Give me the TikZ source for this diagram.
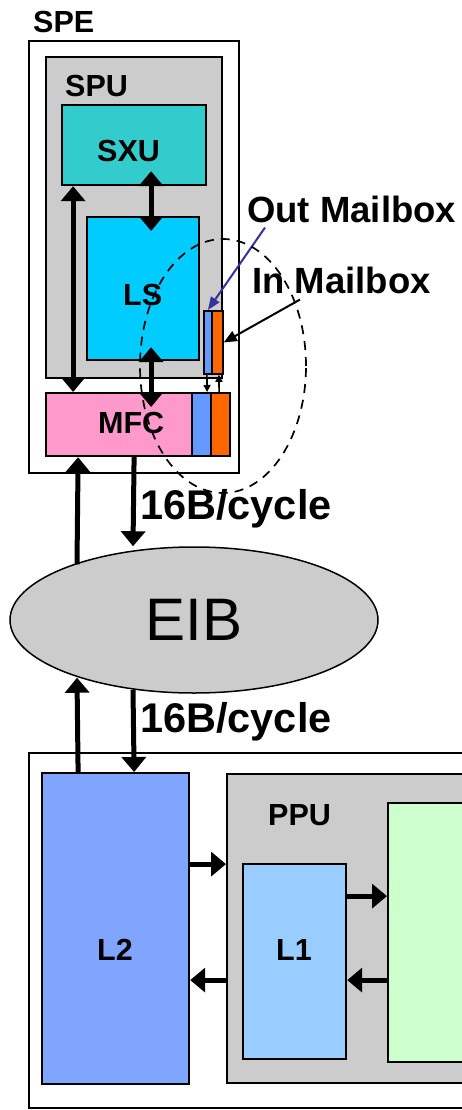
\documentclass[tikz,border=0pt]{standalone}
\usepackage{fontspec}
\setmainfont{Liberation Sans}
\usetikzlibrary{arrows.meta,calc,shapes.geometric}
\definecolor{grayfill}{HTML}{CCCCCC}
\definecolor{sxucol}{HTML}{33CCCC}
\definecolor{lscol}{HTML}{00CCFF}
\definecolor{mfccol}{HTML}{FF99CC}
\definecolor{mbblue}{HTML}{6699FF}
\definecolor{mborange}{HTML}{FF6600}
\definecolor{ltwocol}{HTML}{7FA5FF}
\definecolor{lonecol}{HTML}{99CCFF}
\definecolor{corecol}{HTML}{CCFFCC}
\definecolor{outarrow}{HTML}{333399}
\begin{document}
\begin{tikzpicture}[x=1pt,y=-1pt,
  blk/.style={draw=black, line width=2.2pt, rectangle, inner sep=0pt, anchor=north west},
  lab/.style={inner sep=0pt, anchor=base west, font=\fontsize{30.5}{36}\selectfont\bfseries},
  biglab/.style={inner sep=0pt, anchor=base west, font=\fontsize{36.5}{42}\selectfont\bfseries},
  ratelab/.style={inner sep=0pt, anchor=base west, font=\fontsize{41.5}{48}\selectfont\bfseries},
  bigarr/.style={line width=5pt, {Triangle[length=15pt,width=24pt]}-{Triangle[length=15pt,width=24pt]}},
  onearr/.style={line width=5pt, -{Triangle[length=15pt,width=24pt]}},
  thinarr/.style={line width=1.6pt, -{Triangle[length=7pt,width=7pt]}},
]
\useasboundingbox (0,0) rectangle (462,1110);
\clip (0,0) rectangle (462,1110);

% ---------- SPE ----------
\node[blk, fill=white, minimum width=210, minimum height=432] (spe) at (28,40) {};
\node[blk, fill=grayfill, minimum width=176, minimum height=321] (spu) at (45,56) {};
\node[blk, fill=sxucol, minimum width=144, minimum height=80] (sxu) at (61,104) {};
\node[blk, fill=lscol, minimum width=112, minimum height=143] (ls) at (86,216) {};
\node[blk, fill=mbblue, line width=1.8pt, minimum width=8, minimum height=63] (omb) at (203,310) {};
\node[blk, fill=mborange, line width=1.8pt, minimum width=11, minimum height=63] (imb) at (211,310) {};
\node[blk, fill=mfccol, minimum width=146, minimum height=63] (mfc) at (45,392) {};
\node[blk, fill=mbblue, minimum width=19, minimum height=63] (mfco) at (191,392) {};
\node[blk, fill=mborange, minimum width=19, minimum height=63] (mfci) at (210,392) {};

\node[lab] (spelbl) at (33,33) {SPE};
\node[lab] (spulbl) at (65,97) {SPU};
\node[lab] (sxulbl) at (97,162) {SXU};
\node[lab] (lslbl) at (123,305) {LS};
\node[lab] (mfclbl) at (98,433) {MFC};

% arrows inside SPE
\draw[bigarr, shorten <=-15pt, shorten >=-15pt] ([xshift=17pt]sxu.south) -- ([xshift=8pt]ls.north);
\draw[bigarr, shorten <=-14pt, shorten >=-15pt] ([xshift=8pt]ls.south) -- ([xshift=32pt]mfc.north);
\draw[bigarr] ([xshift=-61pt]sxu.south) -- ([xshift=-46pt]mfc.north);
\draw[thinarr] ([xshift=-1pt]omb.south) -- ([xshift=5.5pt]mfco.north);
\draw[thinarr] ([xshift=-1.5pt]mfci.north) -- ([xshift=1.5pt]imb.south);

% mailbox labels
\node[biglab] (outlbl) at (247,222) {Out Mailbox};
\node[biglab] (inlbl) at (252,293) {In Mailbox};
\draw[outarrow, line width=2pt, -{Triangle[length=13pt,width=10pt]}] ([xshift=18pt,yshift=-5pt]outlbl.south west) -- (omb.north);
\draw[line width=2pt, -{Triangle[length=13pt,width=11pt]}] ([xshift=48pt,yshift=-6pt]inlbl.south west) -- (imb.east);

% ---------- EIB ----------
\node[draw=black, line width=1.5pt, fill=grayfill, ellipse, inner sep=0pt,
      minimum width=368, minimum height=146,
      font=\fontsize{60}{70}\selectfont] (eib) at (194,620) {EIB};

\draw[onearr] ([xshift=-117pt,yshift=-18pt]eib.north) -- ([xshift=-41pt]mfc.south);
\draw[onearr] ([xshift=15pt]mfc.south) -- ([xshift=-61pt]eib.north);
\node[ratelab] (rate1) at (140,519) {16B/cycle};

% ---------- PPE ----------
\node[blk, fill=white, minimum width=452, minimum height=355] (ppe) at (28,752) {};
\node[blk, fill=ltwocol, minimum width=147, minimum height=311] (ltwo) at (41,772) {};
\node[blk, fill=grayfill, minimum width=254, minimum height=309] (ppu) at (226,773) {};
\node[blk, fill=lonecol, minimum width=103, minimum height=195] (lone) at (242,863) {};
\node[blk, fill=corecol, minimum width=93, minimum height=259] (core) at (387,802) {};

\node[lab] (ltwolbl) at (97,960) {L2};
\node[lab] (lonelbl) at (276,960) {L1};
\node[lab] (ppulbl) at (268,825) {PPU};

\draw[onearr] ([xshift=-37.5pt]ltwo.north) -- ([xshift=-117pt,yshift=16pt]eib.south);
\draw[onearr] ([xshift=-61pt,yshift=4pt]eib.south) -- ([xshift=18.5pt]ltwo.north);
\node[ratelab] (rate2) at (140,732) {16B/cycle};

\draw[onearr] ([yshift=64.5pt]ltwo.east) -- ([yshift=64.5pt]ltwo.east -| ppu.west);
\draw[onearr] ([yshift=-51.5pt]ltwo.east -| ppu.west) -- ([yshift=-51.5pt]ltwo.east);
\draw[onearr] ([yshift=65.5pt]lone.east) -- ([yshift=65.5pt]lone.east -| core.west);
\draw[onearr] ([yshift=-18.5pt]lone.east -| core.west) -- ([yshift=-18.5pt]lone.east);

% dashed mailbox ring
\node[draw=black, line width=1.7pt, dash pattern=on 9pt off 7pt, ellipse, inner sep=0pt,
      minimum width=166, minimum height=254] (ring) at (223,366) {};
\end{tikzpicture}
\end{document}
